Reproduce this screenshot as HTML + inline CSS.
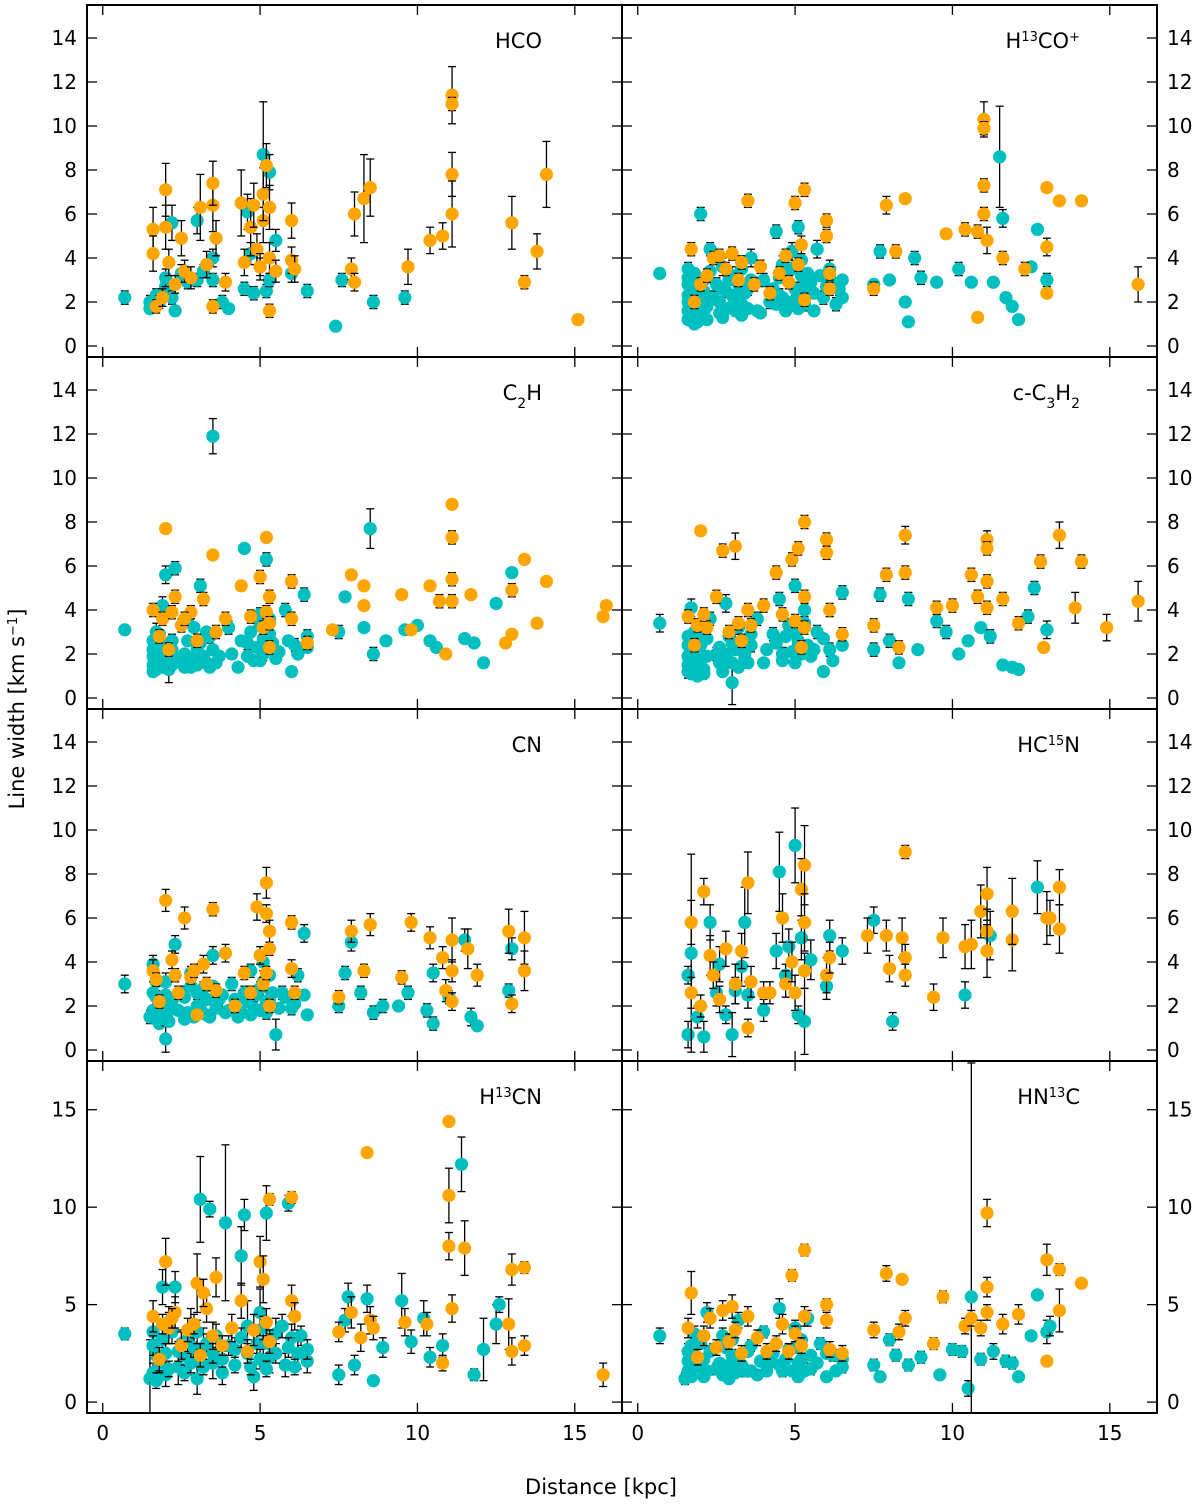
<!DOCTYPE html>
<html><head><meta charset="utf-8"><style>
html,body{margin:0;padding:0;background:#fff}
svg text{font-family:"DejaVu Sans","Liberation Sans",sans-serif}
</style></head><body>
<svg id="fig" width="1200" height="1503" viewBox="0 0 1200 1503" xmlns="http://www.w3.org/2000/svg"></svg>
<script>
// ---- data: [distance kpc, line width km/s, error] ----
const hcoTeal=[[0.7,2.2,.3],[1.5,2.0,.3],[1.5,1.7,.2],[1.7,2.3,.3],[1.8,2.0,.3],[2.0,2.7,.3],[2.0,3.1,.4],[2.2,2.2,.3],[2.3,1.6,.2],[2.5,3.3,.4],[2.7,2.9,.3],[3.0,5.7,.6],[3.0,3.0,.3],[3.2,3.4,.3],[3.5,4.0,.4],[3.5,3.0,.3],[3.8,2.0,.3],[4.0,1.7,.2],[4.5,2.6,.3],[4.7,4.2,.5],[4.8,2.4,.3],[5.0,3.6,.4],[5.1,8.7,2.4],[5.2,2.5,.3],[5.3,3.0,.3],[5.5,4.8,.5],[6.0,3.3,.4],[6.5,2.5,.3],[7.4,0.9,.1],[7.6,3.0,.3],[8.6,2.0,.3],[9.6,2.2,.3],[5.3,7.9,.8],[2.2,5.6,.8],[4.6,6.1,.8]];
const hcoOrange=[[1.6,5.3,1],[1.6,4.2,.8],[1.7,1.8,.3],[1.9,2.2,.4],[2.0,7.1,1.2],[2.0,5.4,1],[2.1,3.8,.6],[2.3,2.8,.4],[2.5,4.9,.8],[2.6,3.4,.5],[2.8,3.1,.5],[3.1,6.3,1.5],[3.3,3.7,.6],[3.5,6.4,1.2],[3.5,7.4,1],[3.5,1.8,.3],[3.6,4.9,.8],[3.9,2.9,.4],[4.4,6.5,1.5],[4.5,3.8,.6],[4.7,5.4,1.3],[4.8,6.4,1],[4.9,4.4,.7],[5.0,3.6,.6],[5.1,5.7,1],[5.1,6.9,1.2],[5.2,8.2,1],[5.3,6.3,1],[5.3,4.0,.7],[5.3,1.6,.3],[5.5,3.4,.5],[6.0,5.7,.8],[6.0,3.9,.6],[6.1,3.5,.6],[7.9,3.5,.5],[8.0,6.0,1],[8.3,6.7,2],[8.5,7.2,1.3],[8.0,2.9,.4],[9.7,3.6,.8],[10.4,4.8,.6],[10.8,5.0,.6],[11.1,11.4,1.3],[11.1,7.8,1],[11.1,6.0,1.5],[11.1,11.0,.3],[13.0,5.6,1.2],[13.4,2.9,.3],[13.8,4.3,.8],[14.1,7.8,1.5],[15.1,1.2,.2]];
const h13copTeal=[[0.7,3.3,.2],[1.6,3.5,.3],[1.6,2.8,.3],[1.6,2.0,.3],[1.7,1.4,.2],[1.8,1.0,.2],[1.9,2.4,.3],[2.0,1.6,.2],[2.0,6.0,.3],[2.1,3.0,.3],[2.2,1.2,.2],[2.3,4.4,.3],[2.4,2.2,.3],[2.6,1.5,.2],[2.7,3.6,.4],[2.8,2.5,.3],[3.0,1.8,.3],[3.0,3.2,.4],[3.2,2.2,.3],[3.3,1.4,.2],[3.5,2.6,.3],[3.6,4.0,.4],[3.8,1.6,.2],[4.0,3.0,.3],[4.2,2.0,.3],[4.4,5.2,.3],[4.5,2.3,.3],[4.6,3.7,.4],[4.8,1.8,.2],[4.9,4.3,.4],[5.0,2.6,.3],[5.1,5.4,.3],[5.2,3.2,.3],[5.3,1.9,.3],[5.5,2.9,.3],[5.7,4.4,.4],[5.9,2.2,.3],[6.1,3.5,.4],[6.3,1.9,.3],[6.4,2.6,.3],[7.5,2.8,.2],[7.7,4.3,.3],[8.0,3.0,.2],[8.5,2.0,.2],[8.6,1.1,.1],[8.8,4.0,.3],[9.0,3.1,.3],[9.5,2.9,.2],[10.2,3.5,.3],[10.6,2.9,.2],[11.3,2.9,.2],[11.5,8.6,2.3],[11.6,5.8,.4],[11.7,2.2,.2],[11.9,1.8,.2],[12.1,1.2,.2],[12.5,3.6,.2],[12.7,5.3,.2],[13.0,3.0,.3],[2.5,2.8,.3],[3.9,1.5,.2],[5.6,1.6,.2]];
const h13copCore=[[1.6,1.2,.2],[1.6,1.6,.2],[1.6,2.3,.2],[1.6,3.1,.2],[1.7,1.8,.2],[1.7,2.6,.2],[1.8,1.3,.2],[1.8,3.3,.2],[1.9,1.9,.2],[1.9,1.1,.2],[2.0,2.2,.2],[2.0,2.9,.2],[2.1,1.4,.2],[2.1,2.5,.2],[2.2,1.8,.2],[2.3,3.4,.2],[2.6,2.0,.2],[2.7,1.3,.2],[2.7,2.6,.2],[2.8,1.7,.2],[2.9,3.0,.2],[3.0,2.3,.2],[3.1,1.6,.2],[3.2,2.8,.2],[3.3,1.9,.2],[3.3,3.5,.2],[3.4,2.4,.2],[3.5,1.7,.2],[3.6,3.0,.2],[4.3,2.6,.2],[4.4,1.9,.2],[4.5,3.1,.2],[4.6,2.2,.2],[4.7,1.6,.2],[4.8,3.4,.2],[4.9,2.0,.2],[5.0,3.6,.2],[5.1,2.3,.2],[5.1,1.7,.2],[5.2,3.9,.2],[5.3,2.7,.2],[5.4,3.3,.2],[5.6,2.4,.2],[5.8,3.2,.2],[6.0,2.7,.2],[6.2,2.9,.2],[6.5,2.2,.2],[6.5,3.0,.2]];
const h13copOrange=[[1.7,4.4,.3],[1.8,2.0,.3],[2.0,2.8,.3],[2.2,3.2,.3],[2.4,4.0,.3],[2.6,4.1,.3],[2.8,3.5,.3],[3.0,4.2,.3],[3.2,3.0,.3],[3.3,3.8,.3],[3.5,6.6,.3],[3.7,2.8,.3],[3.9,3.6,.3],[4.2,2.4,.3],[4.5,3.3,.3],[4.7,4.1,.3],[4.8,2.9,.3],[5.0,6.5,.3],[5.1,3.7,.3],[5.2,4.6,.4],[5.3,7.1,.3],[5.3,2.1,.3],[6.0,5.7,.3],[6.0,5.0,.3],[6.1,3.3,.3],[6.1,2.6,.3],[7.5,2.6,.3],[7.9,6.4,.4],[8.2,4.3,.3],[8.5,6.7,.2],[9.8,5.1,.2],[10.4,5.3,.3],[10.8,5.2,.3],[10.8,1.3,.2],[11.0,10.3,.8],[11.0,9.9,.3],[11.0,7.3,.3],[11.0,6.0,.3],[11.1,4.8,.6],[11.6,4.0,.3],[12.3,3.5,.3],[13.0,7.2,.2],[13.0,4.5,.4],[13.4,6.6,.2],[13.0,2.4,.2],[14.1,6.6,.2],[15.9,2.8,.8]];
const c2hTeal=[[0.7,3.1,.2],[1.6,1.2,.2],[1.6,2.2,.3],[1.7,3.0,.4],[1.8,1.6,.2],[1.9,4.2,.4],[2.0,5.6,.4],[2.1,1.3,.6],[2.2,2.6,.3],[2.3,5.9,.3],[2.5,1.8,.2],[2.7,3.6,.3],[2.8,1.4,.2],[3.0,2.2,.3],[3.1,5.1,.3],[3.3,1.6,.2],[3.4,2.8,.3],[3.5,11.9,.8],[3.7,1.9,.2],[4.0,3.2,.3],[4.3,1.4,.2],[4.5,6.8,.2],[4.6,2.5,.3],[4.8,1.7,.2],[5.0,3.8,.3],[5.1,2.0,.3],[5.2,6.3,.3],[5.3,2.9,.3],[5.5,1.8,.2],[5.8,4.0,.3],[6.0,1.2,.2],[6.1,2.4,.3],[6.4,4.7,.3],[6.5,2.8,.3],[7.5,3.0,.3],[7.7,4.6,.2],[8.5,7.7,.9],[8.3,3.2,.2],[8.6,2.0,.3],[9.0,2.6,.2],[9.6,3.1,.2],[10.0,3.3,.2],[10.4,2.6,.2],[10.6,2.3,.2],[11.5,2.7,.2],[11.8,2.5,.2],[12.1,1.6,.2],[12.5,4.3,.2],[13.0,5.7,.2]];
const c2hCore=[[1.6,1.5,.2],[1.6,1.9,.2],[1.6,2.6,.2],[1.7,1.3,.2],[1.7,2.1,.2],[1.8,2.9,.2],[1.8,1.8,.2],[1.9,1.4,.2],[1.9,2.4,.2],[2.0,1.6,.2],[2.0,2.0,.2],[2.1,1.9,.2],[2.2,1.5,.2],[2.2,2.2,.2],[2.6,1.4,.2],[2.6,2.0,.2],[2.7,2.6,.2],[2.8,1.8,.2],[2.9,3.2,.2],[3.0,1.5,.2],[3.1,2.5,.2],[3.2,1.9,.2],[3.3,3.0,.2],[3.4,1.4,.2],[3.5,2.2,.2],[3.6,1.6,.2],[4.1,2.0,.2],[4.4,2.6,.2],[4.6,1.9,.2],[4.7,3.0,.2],[4.9,2.3,.2],[5.0,1.7,.2],[5.0,3.3,.2],[5.1,2.7,.2],[5.2,2.2,.2],[5.3,3.6,.2],[5.4,2.5,.2],[5.6,2.1,.2],[5.9,2.6,.2],[6.2,2.0,.2],[6.5,2.3,.2]];
const c2hOrange=[[1.6,4.0,.3],[1.8,2.8,.3],[2.0,7.7,.2],[2.1,2.2,.3],[2.3,4.6,.3],[2.5,3.3,.3],[2.8,3.9,.3],[3.0,2.6,.3],[3.2,4.5,.3],[3.5,6.5,.2],[3.6,3.0,.3],[3.9,3.6,.3],[4.4,5.1,.2],[4.7,3.7,.3],[5.0,5.5,.3],[5.1,3.2,.3],[5.2,7.3,.2],[5.3,4.6,.3],[5.3,2.3,.3],[6.0,5.3,.3],[6.0,3.6,.3],[6.5,2.5,.3],[7.3,3.1,.2],[7.9,5.6,.2],[8.3,5.1,.2],[8.3,4.2,.2],[9.5,4.7,.2],[9.8,3.1,.2],[10.4,5.1,.2],[10.7,4.4,.3],[10.9,2.0,.2],[11.1,8.8,.2],[11.1,7.3,.3],[11.1,5.4,.3],[11.1,4.4,.3],[11.7,4.7,.2],[12.8,2.5,.2],[13.0,2.9,.2],[13.0,4.9,.3],[13.4,6.3,.2],[13.8,3.4,.2],[14.1,5.3,.2],[15.9,3.7,.2],[16.0,4.2,.2],[1.9,3.6,.3],[2.2,3.9,.3],[2.6,3.6,.3],[5.2,3.9,.3],[5.3,3.4,.3]];
const c3h2Teal=[[0.7,3.4,.4],[1.6,1.2,.3],[1.6,2.4,.4],[1.7,4.1,.4],[1.8,1.7,.2],[2.0,2.9,.3],[2.1,1.3,.2],[2.3,3.6,.3],[2.5,2.0,.3],[2.7,1.5,.2],[2.8,4.3,.4],[3.0,0.7,1.0],[3.0,2.5,.3],[3.2,3.2,.3],[3.4,1.8,.2],[3.6,2.4,.3],[3.8,3.6,.3],[4.0,1.6,.2],[4.3,2.9,.3],[4.5,4.5,.3],[4.6,2.0,.3],[4.8,3.3,.3],[5.0,5.1,.3],[5.1,2.4,.3],[5.3,4.0,.3],[5.5,1.9,.2],[5.7,3.0,.3],[5.9,1.2,.2],[6.1,2.2,.3],[6.5,4.8,.3],[7.5,2.2,.3],[7.7,4.7,.3],[8.0,2.6,.3],[8.3,1.6,.2],[8.6,4.5,.3],[8.9,2.2,.2],[9.5,3.5,.3],[9.8,3.0,.3],[10.2,2.0,.2],[10.5,2.6,.2],[10.9,3.2,.2],[11.2,2.8,.3],[11.6,1.5,.2],[11.9,1.4,.2],[12.1,1.3,.2],[12.4,3.7,.3],[12.6,5.0,.3],[13.0,3.1,.4]];
const c3h2Core=[[1.6,1.5,.2],[1.6,1.9,.2],[1.6,2.8,.2],[1.7,1.1,.2],[1.7,2.2,.2],[1.8,3.0,.2],[1.8,1.4,.2],[1.9,2.0,.2],[1.9,1.0,.2],[2.0,1.7,.2],[2.0,2.4,.2],[2.1,1.1,.2],[2.2,1.9,.2],[2.2,2.7,.2],[2.6,1.6,.2],[2.6,2.3,.2],[2.7,1.2,.2],[2.8,2.0,.2],[2.9,2.8,.2],[3.0,1.6,.2],[3.1,2.2,.2],[3.2,1.4,.2],[3.3,2.6,.2],[3.4,2.0,.2],[3.5,1.6,.2],[3.6,2.9,.2],[4.1,2.2,.2],[4.4,2.5,.2],[4.6,1.7,.2],[4.7,2.8,.2],[4.9,2.1,.2],[5.0,1.6,.2],[5.0,3.0,.2],[5.1,2.6,.2],[5.2,2.0,.2],[5.3,3.4,.2],[5.4,2.4,.2],[5.6,2.2,.2],[5.9,2.7,.2],[6.2,1.7,.2],[6.5,2.4,.2]];
const c3h2Orange=[[1.6,3.7,.3],[1.8,2.4,.3],[2.0,7.6,.2],[2.2,3.2,.3],[2.5,4.6,.3],[2.7,6.7,.3],[2.9,3.0,.3],[3.1,6.9,.6],[3.3,2.6,.3],[3.5,4.0,.3],[3.6,3.3,.3],[4.0,4.2,.3],[4.4,5.7,.3],[4.6,3.8,.3],[4.9,6.3,.3],[5.0,3.5,.3],[5.1,6.8,.3],[5.2,2.3,.3],[5.3,8.0,.3],[5.3,4.6,.3],[5.3,3.2,.3],[6.0,7.2,.3],[6.0,6.6,.3],[6.1,4.0,.3],[6.5,2.9,.3],[7.5,3.3,.3],[7.9,5.6,.3],[8.3,2.3,.3],[8.5,7.4,.4],[8.5,5.7,.3],[9.5,4.1,.3],[10.0,4.2,.3],[10.6,5.6,.3],[10.8,4.6,.3],[11.1,7.2,.4],[11.1,6.8,.3],[11.1,5.3,.3],[11.1,4.1,.3],[11.6,4.5,.3],[12.1,3.4,.3],[12.8,6.2,.3],[12.9,2.3,.2],[13.4,7.4,.6],[13.9,4.1,.7],[14.1,6.2,.3],[14.9,3.2,.6],[15.9,4.4,.9],[1.9,3.3,.3],[2.1,3.8,.3],[3.2,3.4,.3]];
const cnTeal=[[0.7,3.0,.4],[1.5,1.5,.3],[1.6,3.9,.4],[1.7,2.4,.3],[1.8,1.2,.2],[2.0,3.1,.4],[2.0,0.5,.6],[2.1,1.8,.3],[2.3,4.8,.4],[2.5,2.6,.3],[2.6,1.4,.2],[2.8,3.5,.3],[3.0,2.0,.3],[3.2,2.8,.3],[3.3,1.6,.2],[3.5,4.3,.4],[3.7,2.3,.3],[3.9,1.7,.2],[4.1,3.0,.3],[4.3,1.5,.2],[4.5,2.6,.3],[4.7,3.6,.3],[4.8,1.9,.3],[5.0,2.8,.3],[5.1,4.0,.4],[5.2,1.7,.3],[5.3,2.3,.3],[5.5,0.7,.7],[5.7,2.6,.3],[6.0,1.9,.3],[6.2,3.4,.3],[6.4,5.3,.4],[6.5,1.6,.2],[7.5,2.0,.3],[7.7,3.5,.3],[7.9,4.9,.4],[8.2,2.6,.3],[8.6,1.7,.3],[8.9,2.0,.3],[9.4,2.0,.2],[9.7,2.6,.3],[10.3,1.8,.3],[10.5,1.2,.3],[10.5,3.5,.4],[11.0,2.4,.3],[11.5,5.0,.5],[11.7,1.5,.4],[11.9,1.1,.2],[12.9,2.7,.3],[13.0,4.6,.5]];
const cnCore=[[1.6,1.8,.2],[1.6,2.6,.2],[1.7,1.4,.2],[1.7,3.1,.2],[1.8,2.1,.2],[1.9,1.6,.2],[2.0,2.5,.2],[2.1,1.3,.2],[2.2,2.2,.2],[2.4,1.8,.2],[2.6,2.4,.2],[2.7,1.7,.2],[2.8,2.9,.2],[2.9,1.5,.2],[3.0,2.6,.2],[3.1,1.9,.2],[3.3,2.3,.2],[3.4,1.5,.2],[3.5,2.9,.2],[3.6,1.9,.2],[3.8,2.5,.2],[4.0,1.8,.2],[4.2,2.3,.2],[4.4,1.7,.2],[4.6,2.2,.2],[4.7,1.6,.2],[4.9,2.5,.2],[5.0,1.8,.2],[5.1,3.1,.2],[5.2,2.1,.2],[5.3,3.4,.2],[5.4,2.6,.2],[5.6,1.9,.2],[5.8,2.4,.2],[6.1,2.1,.2],[6.4,2.5,.2]];
const cnOrange=[[1.6,3.6,.5],[1.8,2.2,.3],[2.0,6.8,.5],[2.2,4.1,.4],[2.4,2.6,.3],[2.6,6.0,.5],[2.8,3.3,.3],[3.0,1.6,.2],[3.2,3.9,.4],[3.5,6.4,.3],[3.6,2.7,.3],[3.9,4.4,.4],[4.2,2.0,.3],[4.5,3.5,.3],[4.7,2.6,.3],[4.9,6.5,.6],[5.0,4.3,.4],[5.1,3.0,.3],[5.2,7.6,.7],[5.3,5.4,.5],[5.3,2.0,.3],[6.0,5.8,.3],[6.0,3.7,.4],[6.1,2.6,.3],[7.5,2.4,.3],[7.9,5.4,.5],[8.3,3.6,.3],[8.5,5.7,.5],[9.5,3.3,.3],[9.8,5.8,.4],[10.4,5.1,.5],[10.8,4.2,.5],[10.9,2.7,.5],[11.1,5.0,1.0],[11.1,3.6,.5],[11.1,2.2,.4],[11.6,4.6,.9],[11.9,3.4,.5],[12.9,5.4,1.0],[13.0,2.1,.4],[13.4,5.1,1.2],[13.4,3.6,.9],[1.7,3.2,.3],[2.3,3.4,.3],[2.9,3.6,.3],[3.3,3.0,.3],[5.2,3.5,.3],[5.3,4.6,.3],[5.2,6.2,.4]];
const hc15nTeal=[[1.6,0.7,.6],[1.6,3.4,.4],[1.7,4.4,4.5],[1.9,1.5,.5],[2.1,0.6,.7],[2.3,5.8,.8],[2.5,2.6,.6],[2.6,3.9,.8],[2.8,1.6,.4],[3.0,0.7,1.0],[3.1,2.7,.6],[3.3,3.8,.9],[3.4,5.8,1.6],[3.5,2.5,.6],[4.0,1.8,.5],[4.4,4.5,.8],[4.5,8.1,1.8],[4.7,3.4,.5],[4.8,4.7,.8],[5.0,9.3,1.7],[5.1,1.6,.4],[5.2,5.1,1.0],[5.3,1.3,1.5],[5.5,4.1,.9],[6.0,2.9,.6],[6.1,5.2,.7],[6.5,4.5,.6],[7.5,5.9,.6],[8.1,1.3,.4],[10.4,2.5,.6],[12.7,7.4,1.2],[11.2,5.2,1.1]];
const hc15nOrange=[[1.7,2.6,.7],[1.7,5.8,1.0],[2.0,2.0,.5],[2.1,7.2,.6],[2.3,4.3,.9],[2.4,3.4,.6],[2.6,2.3,.6],[2.8,4.6,.8],[3.1,3.0,.9],[3.3,4.5,.8],[3.5,7.6,1.4],[3.5,1.0,.4],[3.6,3.1,.7],[4.0,2.6,.5],[4.2,2.6,.5],[4.6,6.0,1.1],[4.7,3.0,.6],[4.9,4.0,.9],[5.0,2.6,.8],[5.2,7.3,1.4],[5.3,8.4,1.8],[5.3,5.8,1.3],[5.3,3.6,.8],[6.0,3.4,.8],[6.1,4.2,.7],[7.3,5.2,.8],[7.9,5.2,.7],[8.0,3.7,.6],[8.4,5.1,.9],[8.5,9.0,.3],[8.5,4.2,.6],[8.5,3.4,.5],[9.4,2.4,.6],[9.7,5.1,.9],[10.4,4.7,1.0],[10.6,4.8,1.1],[10.9,6.3,1.2],[11.1,7.1,1.2],[11.1,5.4,1.0],[11.1,4.5,1.2],[11.9,5.0,1.4],[11.9,6.3,1.5],[13.0,6.0,1.2],[13.1,6.0,.8],[13.4,7.4,.8],[13.4,5.5,1.1]];
const h13cnTeal=[[0.7,3.5,.3],[1.5,1.2,2.0],[1.6,3.6,.6],[1.7,2.4,.8],[1.9,5.9,.9],[2.0,1.4,.6],[2.1,4.1,.8],[2.3,5.9,.8],[2.4,1.8,.9],[2.5,3.0,.7],[2.7,2.3,.9],[2.8,3.8,1.0],[3.0,1.2,.8],[3.1,10.4,2.2],[3.2,2.8,1.0],[3.4,9.9,.4],[3.5,2.0,.8],[3.8,1.5,.6],[3.9,9.2,4.0],[4.2,2.7,.6],[4.4,7.5,1.5],[4.5,9.6,.8],[4.6,3.9,1.3],[4.8,1.3,.7],[5.0,4.6,1.2],[5.1,3.0,.9],[5.2,9.7,1.4],[5.3,2.3,.8],[5.5,3.5,.8],[5.8,1.9,.6],[5.9,10.2,.4],[6.0,3.3,.7],[6.2,2.5,.8],[6.5,2.1,.6],[7.5,1.4,.5],[7.7,4.2,.6],[7.8,5.4,.7],[8.0,1.9,.5],[8.4,5.3,.7],[8.6,1.1,.2],[8.9,2.8,.5],[9.5,5.2,1.4],[9.8,3.1,.6],[10.2,4.3,.9],[10.4,2.3,.5],[10.8,2.9,.6],[11.4,12.2,1.4],[11.8,1.4,.3],[12.1,2.7,1.6],[12.5,4.0,1.0],[12.6,5.0,.4]];
const h13cnCore=[[1.6,1.5,.5],[1.6,2.9,.5],[1.7,1.1,.4],[1.8,2.0,.5],[1.9,3.2,.6],[2.0,2.5,.5],[2.1,1.7,.4],[2.2,3.6,.6],[2.4,2.6,.5],[2.6,1.5,.4],[2.7,3.2,.6],[2.8,2.0,.5],[2.9,2.8,.5],[3.0,3.6,.6],[3.1,2.2,.5],[3.2,1.8,.4],[3.3,3.0,.5],[3.5,2.5,.5],[3.6,3.4,.6],[3.8,2.2,.4],[4.0,2.9,.5],[4.2,1.9,.4],[4.4,3.3,.5],[4.6,2.5,.5],[4.7,1.8,.4],[4.9,3.0,.5],[5.0,2.2,.5],[5.1,3.8,.6],[5.2,1.7,.4],[5.3,3.0,.5],[5.5,2.5,.5],[5.7,3.9,.6],[5.9,2.8,.5],[6.1,1.8,.4],[6.3,3.4,.5],[6.5,2.7,.5]];
const h13cnOrange=[[1.6,4.4,.8],[1.8,2.2,.6],[2.0,7.2,1.2],[2.1,3.8,.8],[2.3,4.6,.8],[2.5,2.9,.7],[2.7,3.7,.6],[3.0,6.1,1.5],[3.1,2.4,.6],[3.3,4.8,.7],[3.5,3.4,.7],[3.6,6.4,1.0],[3.8,2.9,.5],[4.1,3.8,.7],[4.4,5.2,.9],[4.6,2.6,.6],[4.8,3.7,.8],[5.0,7.2,1.3],[5.1,6.3,1.2],[5.2,4.1,.7],[5.3,10.4,.3],[5.3,3.1,.6],[6.0,5.2,.8],[6.0,10.5,.3],[6.1,4.4,.7],[7.5,3.6,.5],[7.9,4.6,.8],[8.2,3.3,.7],[8.4,12.8,.2],[8.5,4.2,.7],[8.6,3.8,.6],[9.6,4.1,.7],[10.3,4.0,.6],[10.8,2.0,.4],[11.0,14.4,.2],[11.0,10.6,1.4],[11.0,8.0,.7],[11.1,4.8,.7],[11.5,7.9,1.4],[12.9,4.0,1.3],[13.0,2.6,.7],[13.0,6.8,.8],[13.4,6.9,.3],[13.4,2.9,.5],[15.9,1.4,.6],[1.9,4.0,.5],[2.2,4.3,.5],[2.9,4.0,.5],[3.2,5.6,.7]];
const hn13cTeal=[[0.7,3.4,.4],[1.5,1.2,.3],[1.6,2.6,.4],[1.7,1.6,.3],[1.8,3.5,.4],[2.0,2.0,.3],[2.1,1.3,.2],[2.2,4.6,.5],[2.4,2.7,.3],[2.5,1.7,.3],[2.7,3.4,.4],[2.9,1.2,.2],[3.0,2.4,.3],[3.2,4.2,.4],[3.4,1.6,.3],[3.6,2.9,.3],[3.8,1.4,.2],[4.0,3.6,.3],[4.2,2.1,.3],[4.5,4.8,.5],[4.6,1.6,.3],[4.8,2.7,.3],[5.0,3.8,.4],[5.1,1.3,.2],[5.2,2.2,.3],[5.4,4.3,.4],[5.5,1.7,.3],[5.8,3.0,.3],[6.0,1.3,.2],[6.2,2.4,.3],[6.5,1.8,.3],[7.5,1.9,.3],[7.7,1.3,.2],[8.0,3.2,.3],[8.2,2.4,.3],[8.6,1.9,.3],[9.0,2.3,.3],[9.6,1.4,.2],[10.0,2.7,.3],[10.3,2.6,.3],[10.5,0.7,.4],[10.6,5.4,12.0],[10.9,2.2,.3],[11.3,2.6,.4],[11.7,2.1,.3],[11.9,2.0,.3],[12.1,1.3,.2],[12.5,3.4,.2],[12.7,5.5,.2],[13.0,3.6,.6],[13.1,3.9,.5]];
const hn13cCore=[[1.6,1.6,.2],[1.6,2.1,.2],[1.7,2.9,.2],[1.7,1.3,.2],[1.8,2.4,.2],[1.9,1.8,.2],[2.0,3.0,.2],[2.1,2.2,.2],[2.2,1.6,.2],[2.3,2.6,.2],[2.6,2.0,.2],[2.7,1.4,.2],[2.8,2.8,.2],[2.9,1.9,.2],[3.0,3.2,.2],[3.1,1.5,.2],[3.2,2.3,.2],[3.3,1.9,.2],[3.5,2.6,.2],[3.6,1.6,.2],[3.9,2.1,.2],[4.1,1.6,.2],[4.3,2.5,.2],[4.5,1.9,.2],[4.7,2.2,.2],[4.9,1.6,.2],[5.0,2.8,.2],[5.1,2.0,.2],[5.2,3.2,.2],[5.3,1.6,.2],[5.5,2.4,.2],[5.7,2.0,.2],[6.0,2.5,.2],[6.3,1.6,.2],[6.5,2.2,.2]];
const hn13cOrange=[[1.6,3.8,.5],[1.7,5.6,1.1],[1.9,2.3,.4],[2.1,3.4,.5],[2.3,4.3,.5],[2.5,2.8,.4],[2.7,4.7,.5],[2.9,3.1,.4],[3.0,4.9,.6],[3.1,3.7,.4],[3.3,2.5,.4],[3.5,4.4,.5],[3.8,3.3,.4],[4.1,2.6,.4],[4.4,3.0,.4],[4.6,4.0,.5],[4.8,2.6,.4],[4.9,6.5,.3],[5.0,3.5,.4],[5.2,2.9,.4],[5.3,7.8,.3],[5.3,4.4,.5],[6.0,5.0,.3],[6.0,4.2,.4],[6.1,2.7,.4],[6.5,2.5,.4],[7.5,3.7,.4],[7.9,6.6,.4],[8.3,3.6,.4],[8.4,6.3,.2],[8.5,4.3,.4],[9.4,3.0,.3],[9.7,5.4,.3],[10.4,3.9,.4],[10.6,4.3,.4],[10.9,3.8,.4],[11.1,9.7,.7],[11.1,5.9,.5],[11.1,4.6,.4],[11.6,4.0,.5],[12.1,4.5,.5],[13.0,7.3,.8],[13.0,2.1,.2],[13.4,6.8,.3],[13.4,4.7,1.1],[14.1,6.1,.2]];

const xTicks=[0,5,10,15];
const yTicksA=[0,2,4,6,8,10,12,14];
const yTicksB=[0,5,10,15];
const panels=[
 {name:'hco',label:'HCO',col:0,row:0,teal:hcoTeal,orange:hcoOrange},
 {name:'h13cop',label:'H<tspan baseline-shift="super" font-size="13">13</tspan>CO<tspan baseline-shift="super" font-size="13">+</tspan>',col:1,row:0,teal:h13copTeal.concat(h13copCore),orange:h13copOrange},
 {name:'c2h',label:'C<tspan baseline-shift="sub" font-size="14">2</tspan>H',col:0,row:1,teal:c2hTeal.concat(c2hCore),orange:c2hOrange},
 {name:'c3h2',label:'c-C<tspan baseline-shift="sub" font-size="14">3</tspan>H<tspan baseline-shift="sub" font-size="14">2</tspan>',col:1,row:1,teal:c3h2Teal.concat(c3h2Core),orange:c3h2Orange},
 {name:'cn',label:'CN',col:0,row:2,teal:cnTeal.concat(cnCore),orange:cnOrange},
 {name:'hc15n',label:'HC<tspan baseline-shift="super" font-size="13">15</tspan>N',col:1,row:2,teal:hc15nTeal,orange:hc15nOrange},
 {name:'h13cn',label:'H<tspan baseline-shift="super" font-size="13">13</tspan>CN',col:0,row:3,teal:h13cnTeal.concat(h13cnCore),orange:h13cnOrange},
 {name:'hn13c',label:'HN<tspan baseline-shift="super" font-size="13">13</tspan>C',col:1,row:3,teal:hn13cTeal.concat(hn13cCore),orange:hn13cOrange}
];

const NS='http://www.w3.org/2000/svg';
const svg=document.getElementById('fig');
function el(tag,attrs,parent){const e=document.createElementNS(NS,tag);for(const k in attrs)e.setAttribute(k,attrs[k]);(parent||svg).appendChild(e);return e;}
const L=[87,622],W=535,T=[5,357,709,1061],H=352;
const yMin=[-0.5,-0.5,-0.5,-0.56],yMax=[15.5,15.5,15.5,17.5];

panels.forEach(p=>{
  const x0=L[p.col],y0=T[p.row];
  const g=el('g',{});
  
  
  const xs=d=>x0+(d+0.5)/17*W;
  const ys=v=>y0+H-(v-yMin[p.row])/(yMax[p.row]-yMin[p.row])*H;
  const clip=el('clipPath',{id:'c'+p.name},g);
  el('rect',{x:x0,y:y0,width:W,height:H},clip);
  const marks=el('g',{'clip-path':'url(#c'+p.name+')'},g);
  [['teal','#00bfbf'],['orange','#ffa500']].forEach(([s,c])=>{
    const sg=el('g',{},marks);
    
    
    p[s].forEach(pt=>{
      const cx=xs(pt[0]),cy=ys(pt[1]),t=ys(pt[1]+pt[2]),b=ys(pt[1]-pt[2]);
      el('line',{x1:cx,x2:cx,y1:t,y2:b,stroke:'#000','stroke-width':1.3},sg);
      el('line',{x1:cx-4,x2:cx+4,y1:t,y2:t,stroke:'#000','stroke-width':1.3},sg);
      el('line',{x1:cx-4,x2:cx+4,y1:b,y2:b,stroke:'#000','stroke-width':1.3},sg);
      const m=el('circle',{cx:cx,cy:cy,r:6.6,fill:c},sg);
      
      
    });
  });
  xTicks.forEach(v=>{const x=xs(v);
    el('line',{x1:x,x2:x,y1:y0+H,y2:y0+H-10,stroke:'#000','stroke-width':1.3},g);
    el('line',{x1:x,x2:x,y1:y0,y2:y0+10,stroke:'#000','stroke-width':1.3},g);
    if(p.row===3){const t=el('text',{x:x,y:1440,'font-size':20,'text-anchor':'middle'},g);t.textContent=v;
      }
  });
  const yt=p.row===3?yTicksB:yTicksA;
  yt.forEach(v=>{const y=ys(v);
    el('line',{x1:x0,x2:x0+10,y1:y,y2:y,stroke:'#000','stroke-width':1.3},g);
    el('line',{x1:x0+W,x2:x0+W-10,y1:y,y2:y,stroke:'#000','stroke-width':1.3},g);
    const t=p.col===0?el('text',{x:x0-10,y:y+7,'font-size':20,'text-anchor':'end'},g):el('text',{x:x0+W+10,y:y+7,'font-size':20,'text-anchor':'start'},g);
    t.textContent=v;
    
  });
  el('rect',{x:x0,y:y0,width:W,height:H,fill:'none',stroke:'#000','stroke-width':2},g);
  const lab=el('text',{x:x0+(p.col===0?455:458),y:y0+43,'font-size':21,'text-anchor':'end'},g);
  lab.innerHTML=p.label;
  
  
});
const yt=el('text',{x:0,y:0,'font-size':21,'text-anchor':'middle',transform:'translate(24,709) rotate(-90)'});
yt.innerHTML='Line width [km s<tspan baseline-shift="super" font-size="13">−1</tspan>]';


const xt=el('text',{x:601,y:1494,'font-size':21,'text-anchor':'middle'});
xt.textContent='Distance [kpc]';


</script>
</body></html>
